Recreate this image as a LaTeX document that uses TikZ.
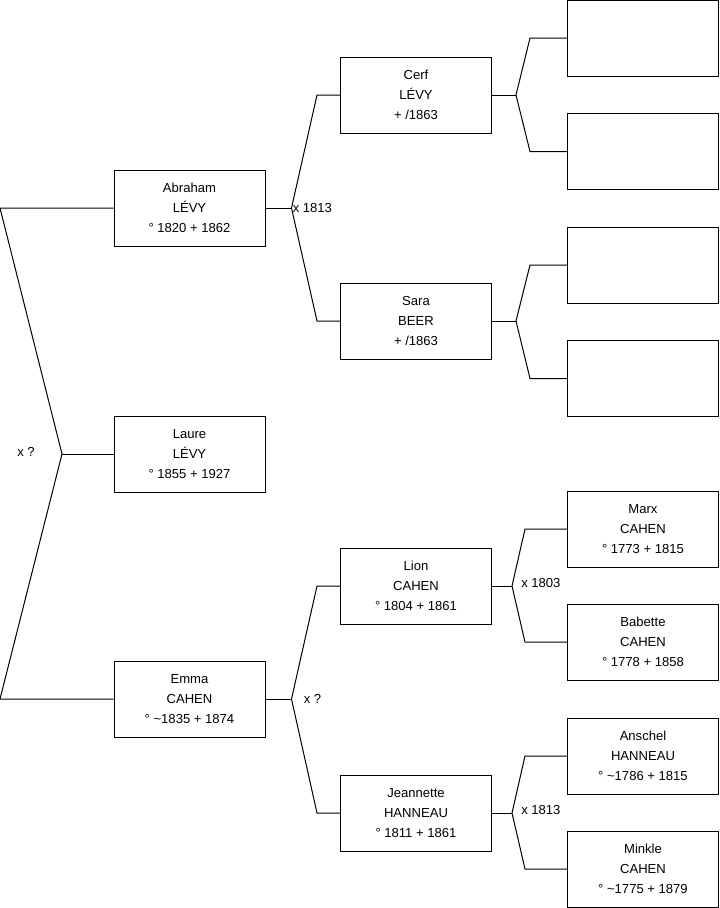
\documentclass[tikz,border=0pt]{standalone}
\usepackage{fontspec}
\setmainfont{Liberation Sans}
\usetikzlibrary{calc}

\begin{document}
\begin{tikzpicture}[
            % ----- Styles -----
                x=0.75pt, y=-0.75pt,
                person/.style={
                    rectangle, draw=black, line width=0.75pt,
                    minimum width=113.25pt, minimum height=57pt,
                    inner sep=0pt, align=center,
                    font=\fontsize{9.8}{15}\selectfont
                },
                link/.style={line width=0.75pt},
                mar/.style={font=\fontsize{9.8}{11}\selectfont, inner sep=0pt}
            ]

% ===================== Rahmen ===================================
                \useasboundingbox (0,0) rectangle (719,908);

% ===================== Generation 1 + 2 =========================
                \node[person] (laure)   at (189.5, 454) {Laure\\L\'EVY\\\textdegree{} 1855 + 1927};
                \node[person] (abraham) at (189.5, 208) {Abraham\\L\'EVY\\\textdegree{} 1820 + 1862};
                \node[person] (emma)    at (189.5, 699) {Emma\\CAHEN\\\textdegree{} \textasciitilde1835 + 1874};

% ===================== Generation 3 =============================
                \node[person] (cerf)      at (416, 95)  {Cerf\\L\'EVY\\+ /1863};
                \node[person] (sara)      at (416, 321) {Sara\\BEER\\+ /1863};
                \node[person] (lion)      at (416, 586) {Lion\\CAHEN\\\textdegree{} 1804 + 1861};
                \node[person] (jeannette) at (416, 813) {Jeannette\\HANNEAU\\\textdegree{} 1811 + 1861};

% ===================== Generation 4 =============================
                \node[person] (cerfF)   at (643, 38)  {};
                \node[person] (cerfM)   at (643, 151.5) {};
                \node[person] (saraF)   at (643, 265) {};
                \node[person] (saraM)   at (643, 378.5) {};
                \node[person] (marx)    at (643, 529) {Marx\\CAHEN\\\textdegree{} 1773 + 1815};
                \node[person] (babette) at (643, 642) {Babette\\CAHEN\\\textdegree{} 1778 + 1858};
                \node[person] (anschel) at (643, 756) {Anschel\\HANNEAU\\\textdegree{} \textasciitilde1786 + 1815};
                \node[person] (minkle)  at (643, 869) {Minkle\\CAHEN\\\textdegree{} \textasciitilde1775 + 1879};

% ===================== Verbindungen =============================
% Laure -> Eltern
                \coordinate (k0) at (62, 454);
                \draw[link] (abraham.west) -- (abraham.west -| 0,0) -- (k0)
                    -- (emma.west -| 0,0) -- (emma.west);
                \draw[link] (k0) -- (laure.west);
                \node[mar] (m0) at (26, 452) {x ?};

% Abraham -> Cerf / Sara
                \coordinate (k1) at ($(abraham.east)+(26,0)$);
                \draw[link] (abraham.east) -- (k1);
                \draw[link] (k1) -- ($(cerf.west)+(-23,0)$) -- (cerf.west);
                \draw[link] (k1) -- ($(sara.west)+(-23,0)$) -- (sara.west);
                \node[mar, anchor=west] (m1) at ($(k1)+(1,0)$) {x 1813};

% Emma -> Lion / Jeannette
                \coordinate (k2) at ($(emma.east)+(26,0)$);
                \draw[link] (emma.east) -- (k2);
                \draw[link] (k2) -- ($(lion.west)+(-23,0)$) -- (lion.west);
                \draw[link] (k2) -- ($(jeannette.west)+(-23,0)$) -- (jeannette.west);
                \node[mar, anchor=west] (m2) at ($(k2)+(12,0)$) {x ?};

% Cerf, Sara -> (leer)
                \foreach \kind/\vat/\mut in {cerf/cerfF/cerfM, sara/saraF/saraM}{
                    \coordinate (k-\kind) at ($(\kind.east)+(24,0)$);
                    \draw[link] (\kind.east) -- (k-\kind);
                    \draw[link] (k-\kind) -- ($(\vat.west)+(-37,0)$) -- (\vat.west);
                    \draw[link] (k-\kind) -- ($(\mut.west)+(-37,0)$) -- (\mut.west);
                }

% Lion, Jeannette -> Eltern
                \foreach \kind/\vat/\mut/\jahr in {lion/marx/babette/1803, jeannette/anschel/minkle/1813}{
                    \coordinate (k-\kind) at ($(\kind.east)+(20,0)$);
                    \draw[link] (\kind.east) -- (k-\kind);
                    \draw[link] (k-\kind) -- ($(\vat.west)+(-42,0)$) -- (\vat.west);
                    \draw[link] (k-\kind) -- ($(\mut.west)+(-42,0)$) -- (\mut.west);
                    \node[mar, anchor=west] at ($(k-\kind)+(9,-3)$) {x \jahr};
                }

            \end{tikzpicture}
\end{document}
